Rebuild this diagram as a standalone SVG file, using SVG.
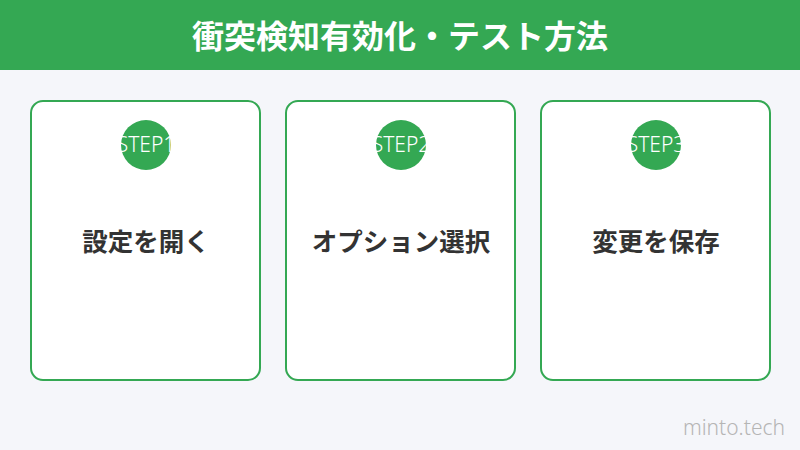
<svg xmlns="http://www.w3.org/2000/svg" width="800" height="450" viewBox="0 0 800 450">
<style>
.card{fill:#fff;stroke:#34A853;stroke-width:2}
.badge{fill:#34A853}
.step{fill:#fff;font-family:"Noto Sans","Liberation Sans",sans-serif;font-size:21px;font-weight:300;text-anchor:middle}
.label{fill:#333;font-family:"Noto Sans CJK JP",sans-serif;font-size:25.5px;font-weight:700;text-anchor:middle}
</style>
<rect width="800" height="450" fill="#F5F6FA"/>
<g id="header">
<rect width="800" height="70" fill="#34A853"/>
<text x="400" y="48" fill="#fff" font-family="'Noto Sans CJK JP',sans-serif" font-size="32" font-weight="700" text-anchor="middle">衝突検知有効化・テスト方法</text>
</g>
<g id="step1">
<rect class="card" x="31" y="101" width="229" height="279" rx="12"/>
<circle class="badge" cx="146" cy="145" r="25"/>
<text class="step" x="146" y="152">STEP1</text>
<text class="label" x="146" y="251">設定を開く</text>
</g>
<g id="step2">
<rect class="card" x="286" y="101" width="229" height="279" rx="12"/>
<circle class="badge" cx="401" cy="145" r="25"/>
<text class="step" x="401" y="152">STEP2</text>
<text class="label" x="401" y="251">オプション選択</text>
</g>
<g id="step3">
<rect class="card" x="541" y="101" width="229" height="279" rx="12"/>
<circle class="badge" cx="656" cy="145" r="25"/>
<text class="step" x="656" y="152">STEP3</text>
<text class="label" x="656" y="251">変更を保存</text>
</g>
<g id="connectors"/>
<text x="785" y="435" fill="#B5B5B5" font-family="'Noto Sans','Liberation Sans',sans-serif" font-size="21" font-weight="300" text-anchor="end">minto.tech</text>
</svg>
